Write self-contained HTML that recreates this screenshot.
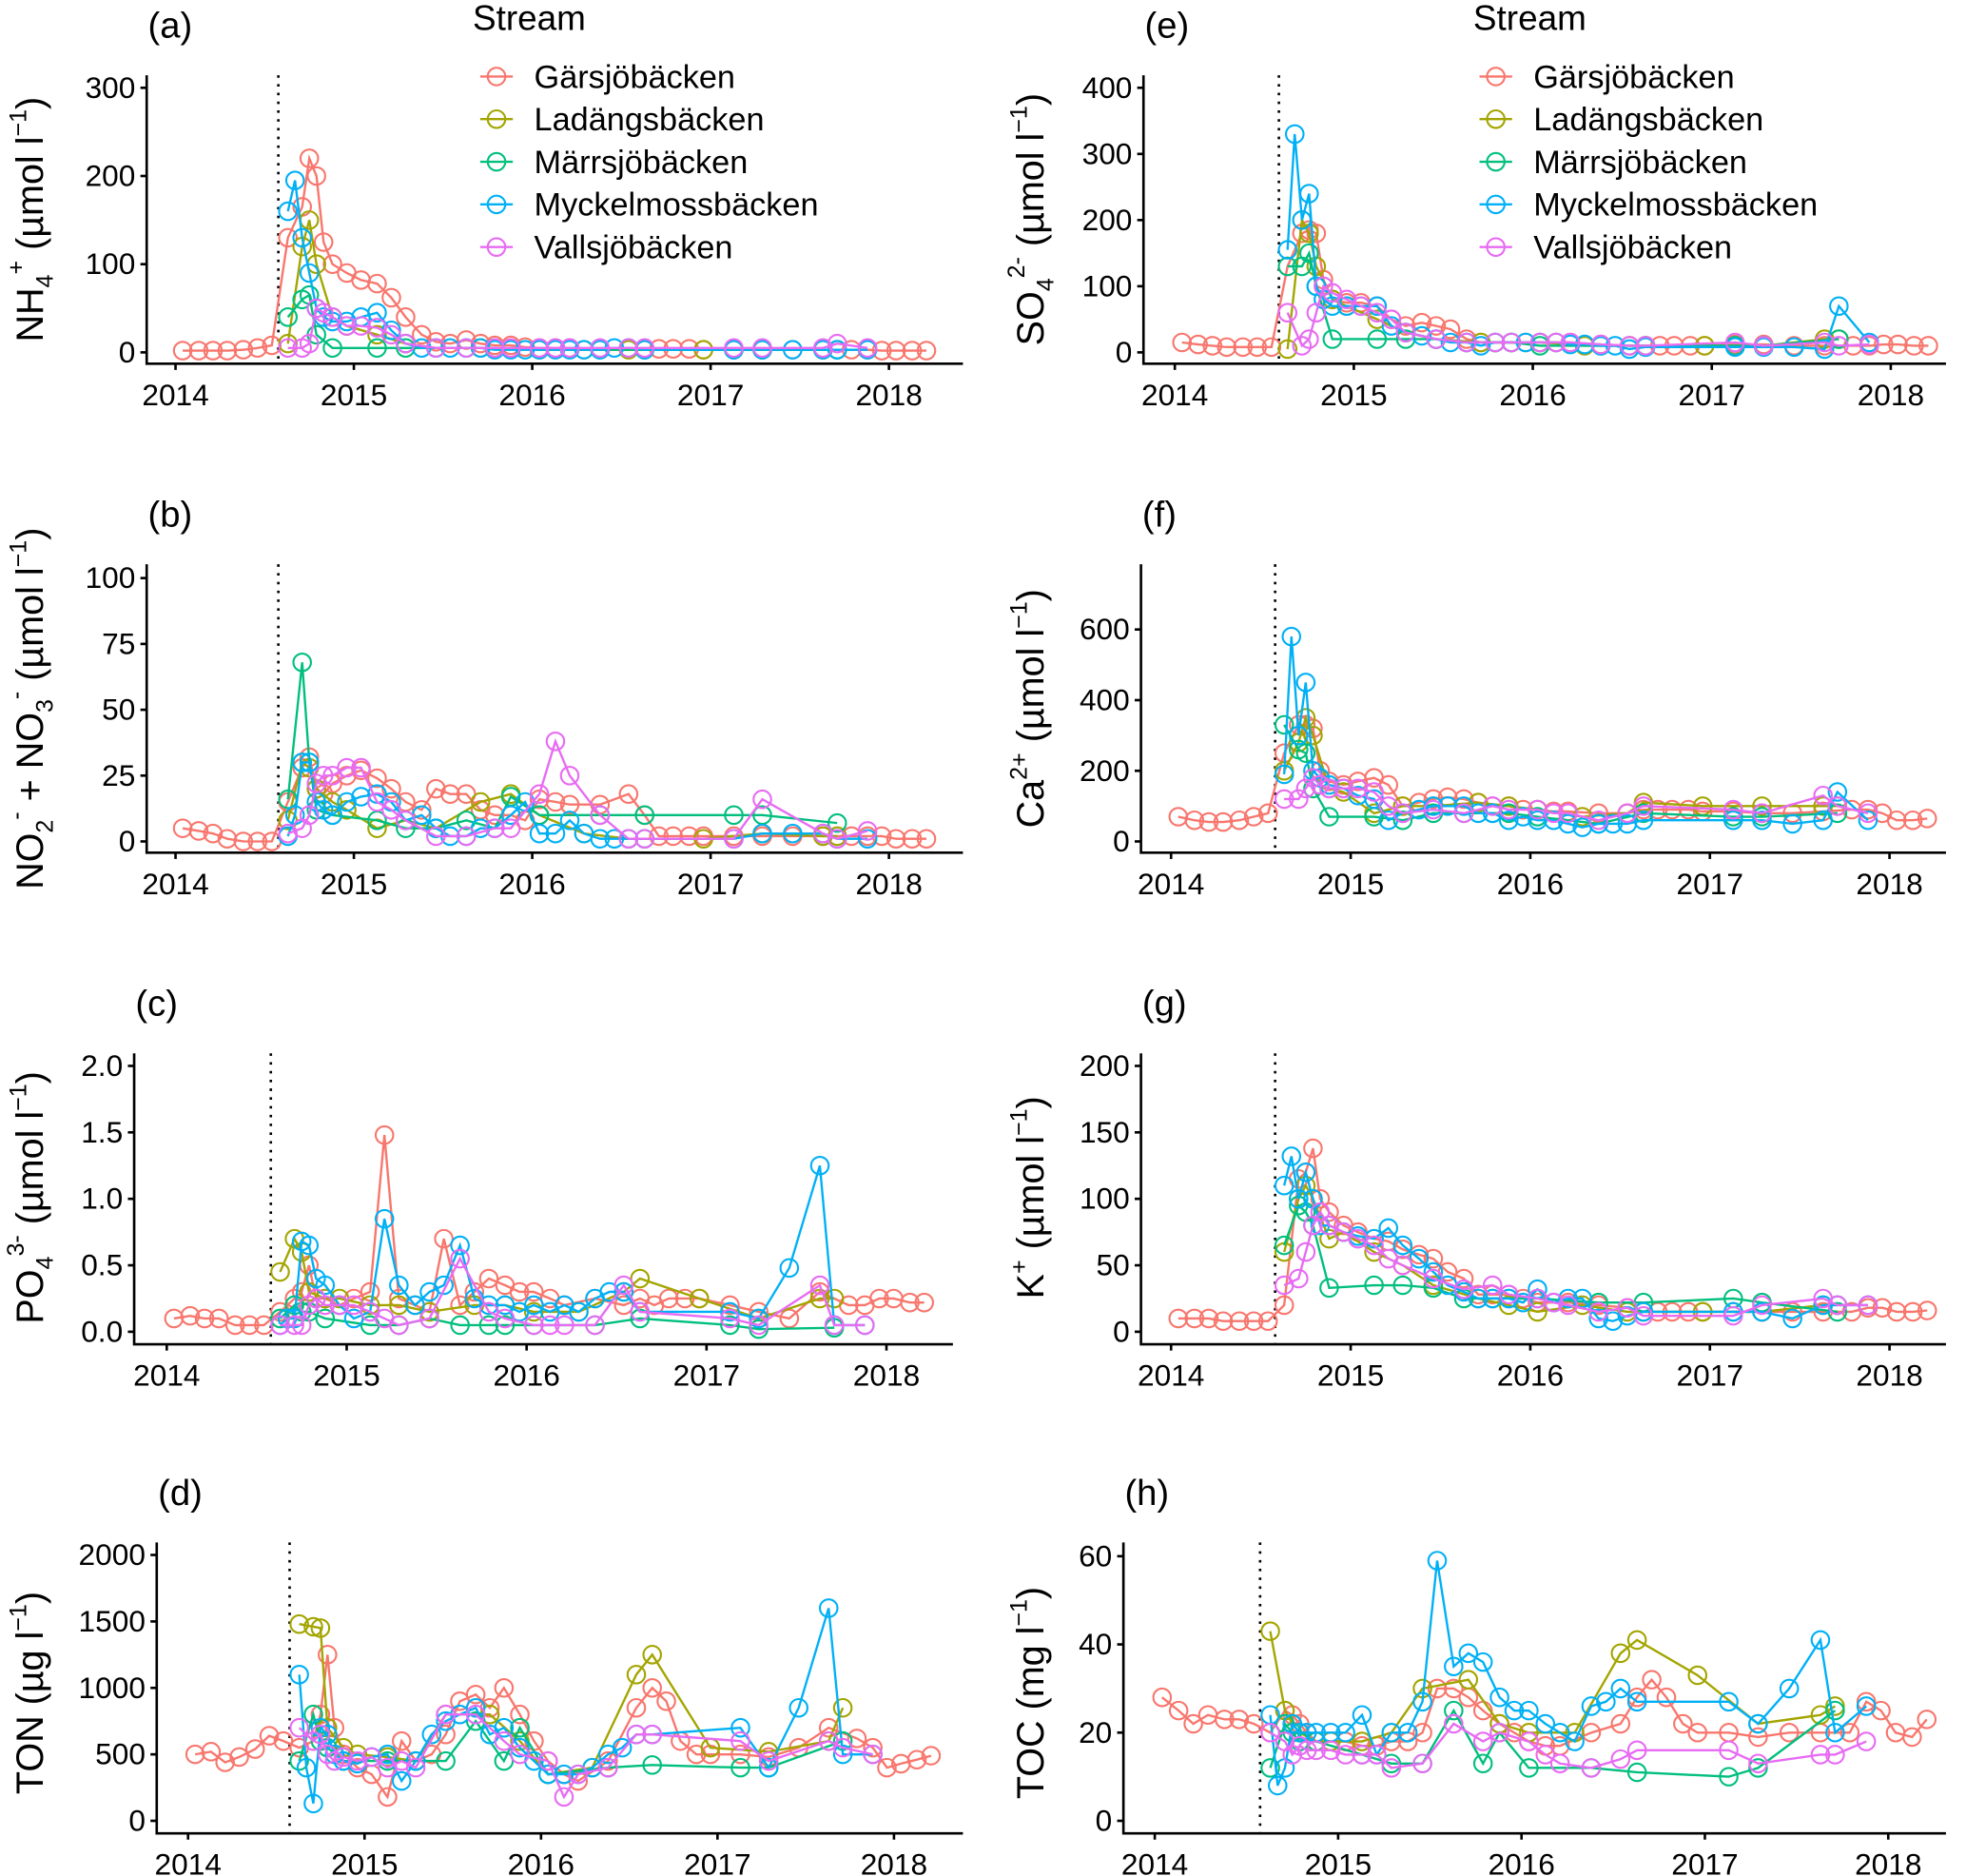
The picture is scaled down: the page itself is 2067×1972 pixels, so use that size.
<!DOCTYPE html>
<html><head><meta charset="utf-8"><style>
html,body{margin:0;padding:0;background:#fff;}
svg{display:block;font-family:"Liberation Sans",sans-serif;}
</style></head><body>
<svg id="fig" width="2067" height="1972" viewBox="0 0 1568 1496" preserveAspectRatio="none" xmlns="http://www.w3.org/2000/svg"></svg>
<script>
// ---- sampling dates per stream ----
const datesG = [2014.04,2014.13,2014.21,2014.29,2014.38,2014.46,2014.54,2014.63,2014.71,2014.75,2014.79,2014.83,2014.88,2014.96,2015.04,2015.13,2015.21,2015.29,2015.38,2015.46,2015.54,2015.63,2015.71,2015.79,2015.88,2015.96,2016.04,2016.13,2016.21,2016.38,2016.54,2016.63,2016.71,2016.79,2016.88,2016.96,2017.13,2017.29,2017.46,2017.63,2017.79,2017.88,2017.96,2018.04,2018.13,2018.21];
const datesL = [2014.63,2014.71,2014.75,2014.79,2014.88,2014.96,2015.13,2015.29,2015.46,2015.71,2015.88,2016.04,2016.29,2016.54,2016.63,2016.96,2017.29,2017.63,2017.71];
const datesM = [2014.63,2014.71,2014.75,2014.79,2014.88,2015.13,2015.29,2015.46,2015.63,2015.79,2015.88,2016.04,2016.38,2016.63,2017.13,2017.29,2017.71];
const datesMy = [2014.63,2014.67,2014.71,2014.75,2014.79,2014.83,2014.88,2014.96,2015.04,2015.13,2015.21,2015.29,2015.38,2015.46,2015.54,2015.63,2015.71,2015.79,2015.88,2015.96,2016.04,2016.13,2016.21,2016.29,2016.38,2016.46,2016.54,2016.63,2017.13,2017.29,2017.46,2017.63,2017.71,2017.88];
const datesV = [2014.63,2014.71,2014.75,2014.79,2014.83,2014.88,2014.96,2015.04,2015.13,2015.21,2015.29,2015.46,2015.63,2015.79,2015.88,2016.04,2016.13,2016.21,2016.38,2016.54,2016.63,2017.13,2017.29,2017.63,2017.71,2017.88];
const streams = ["Gärsjöbäcken","Ladängsbäcken","Märrsjöbäcken","Myckelmossbäcken","Vallsjöbäcken"];
const colors = ["#F8766D","#A3A500","#00BF7D","#00B0F6","#E76BF3"];
const xTicks = [2014,2015,2016,2017,2018];

// ---- (a) NH4 ----
const aG = [2,2,2,2,3,5,8,130,165,220,200,125,100,90,82,78,62,40,20,12,10,14,10,8,8,6,5,5,5,4,4,4,4,4,4,3,3,3,3,3,3,3,2,2,2,2];
const aL = [10,120,150,100,40,30,20,10,5,5,4,3,3,3,3,3,3,3,3];
const aM = [40,60,65,20,5,5,5,5,5,5,4,4,3,3,3,3,3];
const aMy = [160,195,130,90,50,40,35,35,40,45,25,10,5,5,5,5,5,3,3,3,3,3,3,3,3,5,5,3,3,3,3,3,3,3];
const aV = [5,5,10,50,45,40,30,30,28,20,10,5,5,5,5,5,5,5,5,5,5,5,5,5,10,5];
const aTicks = [0,100,200,300];
// ---- (b) NO2+NO3 ----
const bG = [5,4,3,1,0,0,0,15,28,32,20,18,22,25,27,24,20,15,12,20,18,18,12,10,10,8,16,15,14,14,18,10,2,2,2,2,2,2,2,2,2,2,2,1,1,1];
const bL = [8,30,28,20,15,12,5,8,5,15,18,10,3,1,1,1,3,2,2];
const bM = [16,68,30,12,10,8,5,5,8,5,17,10,10,10,10,10,7];
const bMy = [2,10,30,30,15,12,10,15,17,18,15,8,10,5,2,2,5,5,10,15,3,3,8,3,1,1,1,1,1,3,3,3,1,1];
const bV = [3,5,10,22,25,25,28,28,15,12,8,2,2,5,5,18,38,25,10,1,1,1,16,3,1,4];
const bTicks = [0,25,50,75,100];
// ---- (c) PO4 ----
const cG = [0.1,0.12,0.1,0.1,0.05,0.05,0.05,0.15,0.25,0.3,0.5,0.25,0.25,0.2,0.25,0.3,1.48,0.25,0.2,0.15,0.7,0.2,0.3,0.4,0.35,0.3,0.3,0.25,0.2,0.25,0.2,0.25,0.2,0.25,0.25,0.25,0.2,0.15,0.1,0.3,0.2,0.2,0.25,0.25,0.22,0.22];
const cL = [0.45,0.7,0.6,0.3,0.25,0.25,0.2,0.2,0.15,0.2,0.2,0.15,0.15,0.3,0.4,0.25,0.1,0.25,0.25];
const cM = [0.1,0.2,0.15,0.15,0.1,0.05,0.05,0.1,0.05,0.05,0.05,0.05,0.05,0.1,0.05,0.02,0.03];
const cMy = [0.05,0.1,0.1,0.68,0.65,0.4,0.35,0.2,0.1,0.15,0.85,0.35,0.2,0.3,0.35,0.65,0.25,0.2,0.2,0.15,0.2,0.15,0.2,0.15,0.25,0.3,0.3,0.15,0.15,0.1,0.48,1.25,0.05,0.05];
const cV = [0.05,0.05,0.05,0.2,0.25,0.2,0.2,0.2,0.15,0.1,0.05,0.1,0.55,0.15,0.1,0.05,0.05,0.05,0.05,0.35,0.15,0.1,0.05,0.35,0.05,0.05];
const cTicks = [0,0.5,1,1.5,2];
const cTickLabels = ["0.0","0.5","1.0","1.5","2.0"];
// ---- (d) TON ----
const dG = [500,520,440,480,540,640,600,550,600,800,1250,700,500,400,350,180,600,450,500,650,900,950,850,1000,800,600,450,350,300,450,850,1000,900,600,500,500,500,480,550,700,620,550,400,430,460,490];
const dL = [1480,1460,1450,700,550,500,480,450,800,800,600,350,400,1100,1250,550,520,600,850];
const dM = [450,800,600,550,450,450,450,450,750,450,700,350,400,420,400,400,600];
const dMy = [1100,400,130,700,650,500,450,430,480,500,300,450,650,750,800,850,650,700,550,450,350,350,350,400,500,550,650,650,700,400,850,1600,500,500];
const dV = [700,600,650,500,450,480,450,480,400,450,400,800,800,600,500,450,180,350,400,650,650,600,450,600,550,500];
const dTicks = [0,500,1000,1500,2000];
// ---- (e) SO4 ----
const eG = [15,12,10,8,8,8,8,130,180,185,180,110,80,75,75,70,50,40,45,40,35,20,15,15,15,15,15,15,15,12,10,10,10,10,10,10,12,12,10,10,10,10,12,12,10,10];
const eL = [5,200,180,130,80,70,50,30,20,15,15,15,10,10,10,10,10,20,20];
const eM = [130,130,150,100,20,20,20,20,15,15,15,10,10,10,10,10,20];
const eMy = [155,330,200,240,100,80,70,70,70,70,40,30,25,20,15,15,10,15,15,15,15,15,12,12,10,10,5,8,8,8,8,5,70,15];
const eV = [60,10,20,60,100,90,80,70,60,50,30,20,15,15,15,15,15,15,12,10,10,15,10,15,10,12];
const eTicks = [0,100,200,300,400];
// ---- (f) Ca ----
const fG = [70,60,55,55,60,70,80,250,330,330,320,200,170,160,170,180,160,100,110,120,125,120,110,100,100,90,90,85,85,80,80,90,90,90,90,85,85,80,80,85,90,90,80,60,60,65];
const fL = [200,280,350,300,150,140,80,100,100,110,100,90,70,80,110,100,100,100,100];
const fM = [330,260,250,150,70,70,60,80,80,80,80,70,50,80,70,70,80];
const fMy = [190,580,300,450,200,180,160,150,130,120,60,80,90,100,100,100,80,80,60,70,60,60,50,40,50,50,50,60,60,60,50,60,140,60];
const fV = [120,120,150,180,160,150,150,150,140,100,80,90,80,100,90,90,80,80,60,80,100,90,80,130,100,80];
const fTicks = [0,200,400,600];
// ---- (g) K ----
const gG = [10,10,10,8,8,8,8,20,115,120,138,100,90,80,75,70,68,62,58,55,45,40,28,28,28,25,22,22,22,20,18,15,15,15,15,15,15,15,15,15,15,18,18,15,15,16];
const gL = [60,100,110,100,70,75,60,50,35,25,20,15,20,15,15,15,15,20,20];
const gM = [65,95,90,80,33,35,35,33,25,25,25,25,22,22,25,22,15];
const gMy = [110,132,100,120,100,80,80,75,72,70,78,65,55,45,35,30,25,25,25,22,32,22,25,25,10,8,12,15,15,15,10,20,20,20];
const gV = [35,40,60,80,90,80,75,70,65,55,50,40,32,35,28,25,22,20,15,18,12,12,20,25,20,20];
const gTicks = [0,50,100,150,200];
// ---- (h) TOC ----
const hG = [28,25,22,24,23,23,22,20,25,24,22,20,18,18,18,17,17,18,18,20,30,30,28,25,22,20,18,17,17,20,22,28,32,28,22,20,20,19,20,20,20,27,25,20,19,23];
const hL = [43,25,22,20,18,18,18,20,30,32,22,20,20,38,41,33,22,24,26];
const hM = [12,22,20,18,18,15,13,13,25,13,20,12,12,11,10,12,25];
const hMy = [24,8,12,22,20,20,20,20,20,24,15,20,20,27,59,35,38,36,28,25,25,22,20,18,26,27,30,27,27,22,30,41,20,26];
const hV = [20,18,15,17,16,16,16,15,15,15,12,13,22,18,20,18,15,13,12,14,16,16,13,15,15,18];
const hTicks = [0,20,40,60];

const NS = "http://www.w3.org/2000/svg";
const svg = document.getElementById('fig');
function mk(tag, attrs, parent){const e=document.createElementNS(NS,tag);for(const k in attrs)e.setAttribute(k,attrs[k]);(parent||svg).appendChild(e);return e;}

const allDates=[datesG,datesL,datesM,datesMy,datesV];
const SS=19;
const panels = [
 {id:"a",series:[aG,aL,aM,aMy,aV],ticks:aTicks,x2014:140,ppy:142.25,y0:281,ppu:0.7033,left:117,bottom:290,top:60,right:768,dash:222,
  title:`NH<tspan dy="8" font-size="${SS}">4</tspan><tspan dy="-23" font-size="${SS}">+</tspan><tspan dy="15"> (µmol l</tspan><tspan dy="-13" font-size="${SS}">−1</tspan><tspan dy="13">)</tspan>`,tx:34,ty:175},
 {id:"b",series:[bG,bL,bM,bMy,bV],ticks:bTicks,x2014:140,ppy:142.25,y0:671,ppu:2.1,left:117,bottom:680,top:450,right:768,dash:222,
  title:`NO<tspan dy="8" font-size="${SS}">2</tspan><tspan dy="-23" font-size="${SS}">-</tspan><tspan dy="15">  +  NO</tspan><tspan dy="8" font-size="${SS}">3</tspan><tspan dy="-23" font-size="${SS}">-</tspan><tspan dy="15">  (µmol l</tspan><tspan dy="-13" font-size="${SS}">−1</tspan><tspan dy="13">)</tspan>`,tx:34,ty:565},
 {id:"c",series:[cG,cL,cM,cMy,cV],ticks:cTicks,labels:cTickLabels,x2014:133,ppy:143.5,y0:1062,ppu:106,left:107,bottom:1072,top:840,right:760,dash:216,
  title:`PO<tspan dy="8" font-size="${SS}">4</tspan><tspan dy="-23" font-size="${SS}">3-</tspan><tspan dy="15"> (µmol l</tspan><tspan dy="-13" font-size="${SS}">−1</tspan><tspan dy="13">)</tspan>`,tx:34,ty:955},
 {id:"d",series:[dG,dL,dM,dMy,dV],ticks:dTicks,x2014:150,ppy:140.75,y0:1452,ppu:0.106,left:125,bottom:1462,top:1230,right:768,dash:231,
  title:`TON (µg l<tspan dy="-13" font-size="${SS}">−1</tspan><tspan dy="13">)</tspan>`,tx:34,ty:1350},
 {id:"e",series:[eG,eL,eM,eMy,eV],ticks:eTicks,x2014:937,ppy:142.75,y0:281,ppu:0.5275,left:912,bottom:290,top:60,right:1552,dash:1020,
  title:`SO<tspan dy="8" font-size="${SS}">4</tspan><tspan dy="-23" font-size="${SS}">2-</tspan><tspan dy="15"> (µmol l</tspan><tspan dy="-13" font-size="${SS}">−1</tspan><tspan dy="13">)</tspan>`,tx:832,ty:175},
 {id:"f",series:[fG,fL,fM,fMy,fV],ticks:fTicks,x2014:934,ppy:143.25,y0:671,ppu:0.2817,left:910,bottom:680,top:450,right:1552,dash:1017,
  title:`Ca<tspan dy="-13" font-size="${SS}">2+</tspan><tspan dy="13"> (µmol l</tspan><tspan dy="-13" font-size="${SS}">−1</tspan><tspan dy="13">)</tspan>`,tx:832,ty:565},
 {id:"g",series:[gG,gL,gM,gMy,gV],ticks:gTicks,x2014:934,ppy:143.25,y0:1062,ppu:1.06,left:910,bottom:1072,top:840,right:1552,dash:1017,
  title:`K<tspan dy="-13" font-size="${SS}">+</tspan><tspan dy="13"> (µmol l</tspan><tspan dy="-13" font-size="${SS}">−1</tspan><tspan dy="13">)</tspan>`,tx:832,ty:955},
 {id:"h",series:[hG,hL,hM,hMy,hV],ticks:hTicks,x2014:921,ppy:146.25,y0:1452,ppu:3.517,left:896,bottom:1462,top:1230,right:1552,dash:1005,
  title:`TOC (mg l<tspan dy="-13" font-size="${SS}">−1</tspan><tspan dy="13">)</tspan>`,tx:832,ty:1350}
];

panels.forEach(p=>{
  const sx=t=>p.x2014+(t-2014)*p.ppy;
  const sy=v=>p.y0-v*p.ppu;
  const g=mk('g',{});
  
  
  const lab=mk('text',{x:p.left+1,y:p.top-30,'font-size':29,fill:'#000'},g);
  lab.textContent='('+p.id+')';
  
  
  const dl=mk('line',{x1:p.dash,x2:p.dash,y1:p.top,y2:p.bottom,stroke:'#000','stroke-width':2,'stroke-dasharray':'2,5'},g);
  
  
  p.series.forEach((vals,si)=>{
    const dates=allDates[si];
    const sg=mk('g',{},g);
    
    
    const pts=vals.map((v,i)=>sx(dates[i]).toFixed(1)+','+sy(v).toFixed(1)).join(' ');
    const pl=mk('polyline',{points:pts,fill:'none',stroke:colors[si],'stroke-width':1.8},sg);
    
    
    vals.forEach((v,i)=>{
      const c=mk('circle',{cx:sx(dates[i]),cy:sy(v),r:7,fill:'none',stroke:colors[si],'stroke-width':1.6},sg);
      
      
    });
  });
  const ax=mk('path',{d:`M${p.left},${p.top}V${p.bottom}H${p.right}`,fill:'none',stroke:'#000','stroke-width':2},g);
  
  
  p.ticks.forEach((tv,i)=>{
    const y=sy(tv);
    mk('line',{x1:p.left-5,x2:p.left,y1:y,y2:y,stroke:'#000','stroke-width':2},g);
    const t=mk('text',{x:p.left-9,y:y+8,'font-size':24,'text-anchor':'end',fill:'#000'},g);
    t.textContent=p.labels?p.labels[i]:String(tv);
    
    
  });
  xTicks.forEach(yr=>{
    const x=sx(yr);
    mk('line',{x1:x,x2:x,y1:p.bottom,y2:p.bottom+5,stroke:'#000','stroke-width':2},g);
    const t=mk('text',{x:x,y:p.bottom+33,'font-size':24,'text-anchor':'middle',fill:'#000'},g);
    t.textContent=String(yr);
    
    
  });
  const yt=mk('text',{x:0,y:0,'font-size':30,'text-anchor':'middle',fill:'#000',transform:`translate(${p.tx},${p.ty}) rotate(-90)`},g);
  yt.innerHTML=p.title;
  
  
});

[[377,383],[1175,1180]].forEach((L,li)=>{
  const g=mk('g',{});
  
  
  const t=mk('text',{x:L[0],y:24,'font-size':28,fill:'#000'},g);
  t.textContent='Stream';
  
  
  streams.forEach((s,i)=>{
    const y=61+i*34;
    const e=mk('g',{},g);
    
    
    mk('line',{x1:L[1],x2:L[1]+26,y1:y,y2:y,stroke:colors[i],'stroke-width':1.8},e);
    mk('circle',{cx:L[1]+13,cy:y,r:7,fill:'none',stroke:colors[i],'stroke-width':1.6},e);
    const tx=mk('text',{x:L[1]+43,y:y+9,'font-size':26,fill:'#000'},e);
    tx.textContent=s;
  });
});
</script>
</body></html>
